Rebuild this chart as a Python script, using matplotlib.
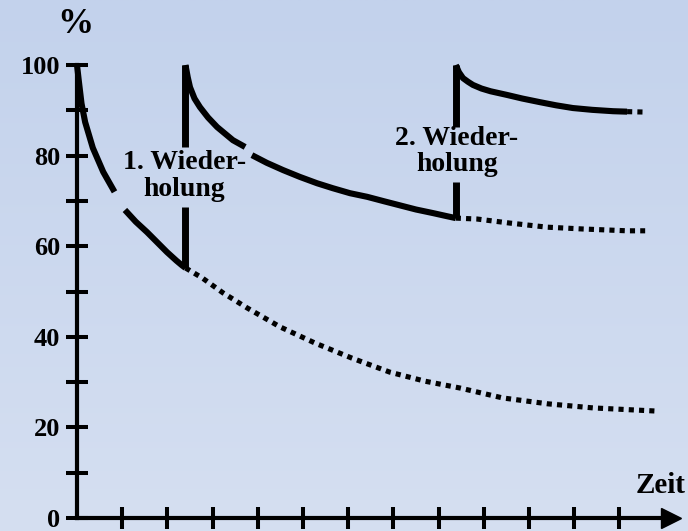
import numpy as np
import matplotlib
matplotlib.use("Agg")
import matplotlib.pyplot as plt
from matplotlib.colors import LinearSegmentedColormap

nan = np.nan

# --- data (x in tick units of "Zeit", y in %) ---
y_major_ticks = [0, 20, 40, 60, 80, 100]
y_minor_ticks = [10, 30, 50, 70, 90]
x_ticks = [1, 2, 3, 4, 5, 6, 7, 8, 9, 10, 11, 12]

# first learning: solid part (with a small break), then dotted forgetting
c1_solid_x = [0.0, 0.04, 0.10, 0.18, 0.35, 0.58, 0.83, nan, 1.06, 1.30, 1.55, 1.78, 1.99, 2.20, 2.32, 2.40]
c1_solid_y = [100, 96.5, 91.5, 87.4, 81.7, 76.4, 72.0, nan, 68.0, 65.4, 63.1, 60.8, 58.7, 56.8, 55.8, 55.2]
c1_dot_x = [2.40, 2.77, 3.23, 3.76, 4.49, 5.27, 6.08, 6.92, 7.70, 8.47, 9.42, 10.42, 11.42, 12.83]
c1_dot_y = [55.2, 53.0, 49.7, 46.4, 42.2, 38.6, 35.3, 32.2, 30.2, 28.7, 26.5, 25.2, 24.3, 23.6]

# 1st repetition
jump1_x = [2.40, 2.40, nan, 2.40, 2.40]
jump1_y = [100, 81.9, nan, 68.7, 55.2]
c2_solid_x = [2.40, 2.45, 2.50, 2.60, 2.72, 2.90, 3.10, 3.45, 3.72, nan, 3.87, 4.20, 4.56, 4.93, 5.31, 5.66, 6.04, 6.42, 6.80, 7.15, 7.50, 7.88, 8.15, 8.38]
c2_solid_y = [100, 97.3, 95.1, 92.6, 90.7, 88.4, 86.3, 83.4, 81.9, nan, 80.1, 78.4, 76.8, 75.3, 73.9, 72.8, 71.7, 70.9, 69.9, 69.0, 68.1, 67.3, 66.7, 66.2]
c2_dot_x = [8.38, 8.85, 9.58, 10.40, 11.19, 12.17, 12.57]
c2_dot_y = [66.2, 66.0, 65.1, 64.2, 63.8, 63.4, 63.4]

# 2nd repetition
jump2_x = [8.38, 8.38, nan, 8.38, 8.38]
jump2_y = [100, 86.3, nan, 74.2, 66.2]
c3_solid_x = [8.38, 8.45, 8.54, 8.65, 8.76, 8.95, 9.15, 9.51, 9.85, 10.24, 10.60, 10.97, 11.40, 11.86, 12.17]
c3_solid_y = [100, 98.4, 97.1, 96.3, 95.6, 94.8, 94.2, 93.4, 92.6, 91.8, 91.1, 90.5, 90.1, 89.8, 89.7]
c3_dot_x = [12.17, 12.61]
c3_dot_y = [89.7, 89.6]

label_rep1 = "1. Wieder-\nholung"
label_rep2 = "2. Wieder-\nholung"
label_x = "Zeit"
label_y = "%"

# --- figure ---
W, H = 688, 531
fig = plt.figure(figsize=(W / 100, H / 100), dpi=100)
ax = fig.add_axes([0, 0, 1, 1])

x0_px, px_per_x = 77.0, 45.2
y0_px, px_per_y = 518.0, 4.53
ax.set_xlim(-x0_px / px_per_x, (W - x0_px) / px_per_x)
ax.set_ylim(-(H - y0_px) / px_per_y, y0_px / px_per_y)

# gradient background
cmap = LinearSegmentedColormap.from_list("bg", ["#d5dff1", "#c3d2ec"])
grad = np.linspace(0, 1, 256).reshape(-1, 1)
ax.imshow(grad, aspect="auto", cmap=cmap, origin="lower",
          extent=[*ax.get_xlim(), *ax.get_ylim()], zorder=0)

font = {"family": ["Liberation Serif", "DejaVu Serif"], "weight": "bold"}

# axes as spines through the origin
for s in ["top", "right"]:
    ax.spines[s].set_visible(False)
ax.spines["left"].set_position(("data", 0))
ax.spines["bottom"].set_position(("data", 0))
ax.spines["left"].set_bounds(0, 100)
ax.spines["bottom"].set_bounds(0, 13.1)
for s in ["left", "bottom"]:
    ax.spines[s].set_linewidth(3.0)
    ax.spines[s].set_zorder(3)

ax.set_yticks(y_major_ticks)
ax.set_yticks(y_minor_ticks, minor=True)
ax.set_yticklabels([str(v) for v in y_major_ticks], fontdict=font, fontsize=19)
ax.set_xticks(x_ticks)
ax.set_xticklabels([])
ax.tick_params(axis="both", which="both", direction="inout", length=16, width=2.9, pad=4)
ax.tick_params(axis="x", which="minor", length=0)

# arrow head on the time axis
ax.plot([13.15], [0], marker=">", ms=15, color="black", clip_on=False, zorder=4)

lw_solid = 4.4
dot_style = dict(color="black", lw=3.7, linestyle=(0, (1.0, 1.0)),
                 dash_capstyle="butt", zorder=2)
solid_style = dict(color="black", lw=lw_solid, solid_capstyle="butt",
                   solid_joinstyle="round", zorder=2)

ax.plot(c1_solid_x, c1_solid_y, **solid_style)
ax.plot(c1_dot_x, c1_dot_y, **dot_style)
ax.plot(jump1_x, jump1_y, color="black", lw=5.0, solid_capstyle="butt", zorder=2)
ax.plot(c2_solid_x, c2_solid_y, **solid_style)
ax.plot(c2_dot_x, c2_dot_y, **dot_style)
ax.plot(jump2_x, jump2_y, color="black", lw=5.0, solid_capstyle="butt", zorder=2)
ax.plot(c3_solid_x, c3_solid_y, **solid_style)
ax.plot(c3_dot_x, c3_dot_y, **dot_style)

ax.text(2.38, 75.4, label_rep1, ha="center", va="center", fontsize=20,
        linespacing=1.1, zorder=5, **font)
ax.text(8.40, 80.9, label_rep2, ha="center", va="center", fontsize=20,
        linespacing=1.1, zorder=5, **font)
ax.text(13.47, 4.2, label_x, ha="right", va="bottom", fontsize=21, zorder=5, **font)
ax.text(-0.04, 109.0, label_y, ha="center", va="center", fontsize=26, zorder=5, **font)

fig.savefig("out.png", dpi=100)
